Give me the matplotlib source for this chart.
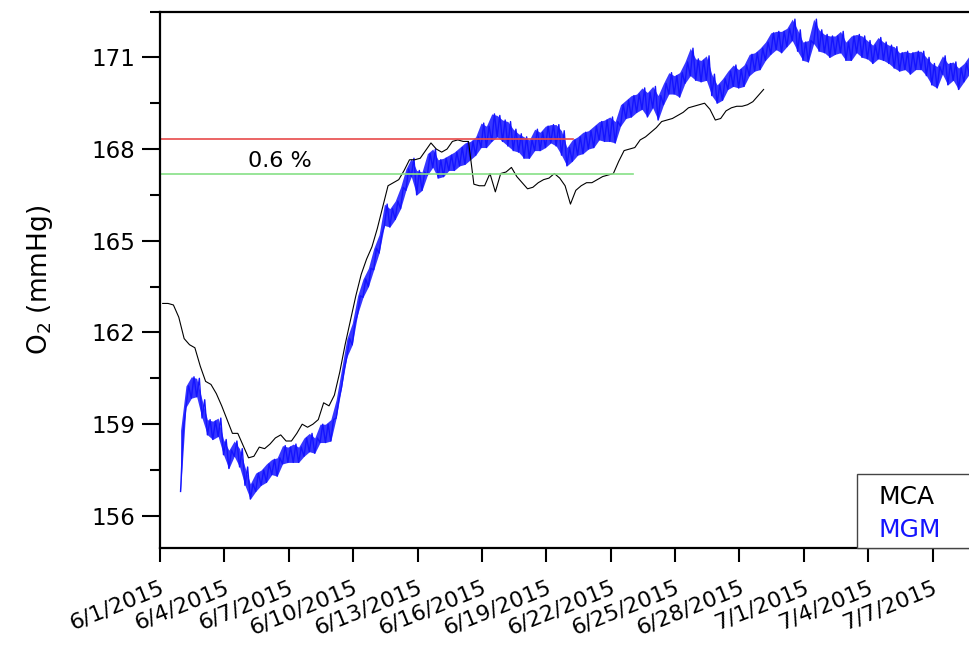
import numpy as np
import pandas as pd
import matplotlib
matplotlib.use("Agg")
import matplotlib.pyplot as plt
from matplotlib.ticker import MultipleLocator
from matplotlib.patches import Rectangle

# MGM: centre of the noisy trace and its half width, one reading every 6 h
mgm_start = "2015-06-01 23:00"
mgm_mid = [157.8, 159.9, 160.2, 160.2, 159.5, 158.9, 158.8, 158.9, 158.25, 157.85,
           158.2, 157.9, 157.3, 156.8, 157.1, 157.25, 157.4, 157.6, 157.6, 158.0,
           158.0, 158.05, 158.0, 158.25, 158.4, 158.3, 158.7, 158.7, 158.8, 159.5,
           160.5, 161.5, 161.95, 162.9, 163.45, 163.8, 164.4, 164.9, 165.85, 165.75,
           166.0, 166.4, 167.0, 167.4, 166.9, 166.95, 167.5, 167.7, 167.35, 167.4,
           167.55, 167.6, 167.75, 167.85, 167.95, 168.1, 168.45, 168.4, 168.7, 168.75,
           168.6, 168.5, 168.3, 168.2, 168.05, 168.0, 168.3, 168.25, 168.4, 168.5,
           168.45, 168.2, 167.75, 167.95, 168.1, 168.2, 168.3, 168.4, 168.6, 168.6,
           168.65, 168.55, 169.1, 169.3, 169.4, 169.5, 169.65, 169.45, 169.7, 169.35,
           169.8, 170.15, 170.1, 170.1, 170.5, 170.85, 170.6, 170.55, 170.65, 170.1,
           169.8, 169.95, 170.25, 170.4, 170.3, 170.4, 170.75, 170.85, 170.95, 171.2,
           171.45, 171.55, 171.5, 171.65, 171.9, 171.55, 171.2, 171.2, 171.85, 171.55,
           171.45, 171.35, 171.4, 171.5, 171.2, 171.3, 171.45, 171.35, 171.25, 171.1,
           171.3, 171.2, 171.1, 171.0, 170.85, 170.9, 170.8, 170.9, 170.9, 170.7,
           170.45, 170.35, 170.75, 170.45, 170.55, 170.3, 170.5, 170.75, 170.8]
mgm_half = [1.0, 0.35, 0.35, 0.3, 0.3, 0.25, 0.3, 0.3, 0.25, 0.3,
            0.25, 0.3, 0.3, 0.25, 0.3, 0.25, 0.3, 0.25, 0.3, 0.3,
            0.25, 0.3, 0.25, 0.3, 0.3, 0.25, 0.3, 0.3, 0.35, 0.3,
            0.3, 0.3, 0.35, 0.3, 0.3, 0.3, 0.35, 0.3, 0.35, 0.3,
            0.3, 0.35, 0.35, 0.3, 0.4, 0.3, 0.35, 0.3, 0.3, 0.3,
            0.25, 0.3, 0.3, 0.35, 0.3, 0.3, 0.4, 0.35, 0.45, 0.35,
            0.35, 0.4, 0.35, 0.3, 0.35, 0.3, 0.35, 0.3, 0.35, 0.3,
            0.35, 0.4, 0.3, 0.35, 0.3, 0.35, 0.3, 0.35, 0.3, 0.35,
            0.4, 0.35, 0.35, 0.3, 0.35, 0.3, 0.35, 0.4, 0.35, 0.4,
            0.35, 0.35, 0.3, 0.4, 0.35, 0.45, 0.35, 0.35, 0.4, 0.35,
            0.3, 0.35, 0.3, 0.35, 0.3, 0.35, 0.35, 0.3, 0.35, 0.3,
            0.35, 0.3, 0.35, 0.3, 0.35, 0.35, 0.3, 0.35, 0.4, 0.35,
            0.3, 0.35, 0.3, 0.35, 0.3, 0.4, 0.3, 0.35, 0.3, 0.3,
            0.35, 0.3, 0.3, 0.35, 0.3, 0.3, 0.35, 0.3, 0.3, 0.3,
            0.35, 0.35, 0.3, 0.35, 0.3, 0.35, 0.3, 0.3, 0.3]

# MCA: one reading every 6 h
mca_start = "2015-06-01 03:00"
mca = [162.95, 162.95, 162.9, 162.5, 161.8, 161.6, 161.5, 160.9, 160.4, 160.3,
       160.0, 159.6, 159.15, 158.7, 158.7, 158.3, 157.9, 157.95, 158.25, 158.2,
       158.35, 158.55, 158.65, 158.45, 158.45, 158.7, 159.0, 158.9, 159.0, 159.15,
       159.7, 159.6, 159.95, 160.7, 161.6, 162.4, 163.2, 163.9, 164.4, 164.8,
       165.4, 166.1, 166.8, 166.9, 167.0, 167.3, 167.65, 167.65, 167.7, 167.95,
       168.2, 168.0, 167.9, 168.0, 168.25, 168.3, 168.25, 168.25, 166.85, 166.8,
       166.8, 167.2, 166.6, 167.2, 167.25, 167.4, 167.1, 166.9, 166.7, 166.75,
       166.9, 167.0, 167.05, 167.2, 167.05, 166.8, 166.2, 166.65, 166.8, 166.9,
       166.9, 167.0, 167.1, 167.15, 167.2, 167.6, 167.95, 168.0, 168.05, 168.3,
       168.4, 168.55, 168.7, 168.9, 168.95, 169.0, 169.1, 169.2, 169.35, 169.4,
       169.45, 169.5, 169.3, 168.95, 169.0, 169.25, 169.35, 169.4, 169.4, 169.45,
       169.55, 169.75, 169.95]

# reference levels (0.6 % apart)
ref_high, ref_high_end = 168.32, "2015-06-20 06:00"
ref_low, ref_low_end = 167.18, "2015-06-23 01:00"

tick_labels = ["6/1/2015", "6/4/2015", "6/7/2015", "6/10/2015", "6/13/2015",
               "6/16/2015", "6/19/2015", "6/22/2015", "6/25/2015", "6/28/2015",
               "7/1/2015", "7/4/2015", "7/7/2015"]

plt.rcParams['font.family'] = ['DejaVu Sans']
BLUE = "#1414ff"

fig = plt.figure(figsize=(9.7, 6.46), dpi=100)
# right edge of the frame runs past the picture, as in the original
ax = fig.add_axes([160 / 970, 98 / 646, 837 / 970, 536.5 / 646])

# noisy MGM trace: band between low and high edge, with a zig-zag through it
t = pd.date_range(mgm_start, periods=len(mgm_mid), freq="6h").values
mid = np.array(mgm_mid)
half = np.array(mgm_half)
ax.fill_between(t, mid - half, mid + half, color=BLUE, lw=0, alpha=0.85)
zx = np.empty(2 * len(t), dtype="datetime64[ns]")
zy = np.empty(2 * len(t))
zx[0::2] = t
zx[1::2] = t + np.timedelta64(3, "h")
zy[0::2] = mid - half
zy[1::2] = mid + half
ax.plot(zx, zy, color=BLUE, lw=1.0)

tm = pd.date_range(mca_start, periods=len(mca), freq="6h")
ax.plot(tm, mca, color="black", lw=0.8)

x0 = pd.Timestamp("2015-06-01")
ax.plot([x0, pd.Timestamp(ref_high_end)], [ref_high, ref_high], color="#e84a4a", lw=1.2)
ax.plot([x0, pd.Timestamp(ref_low_end)], [ref_low, ref_low], color="#86e086", lw=1.2)
ax.text(pd.Timestamp("2015-06-05 02:00"), 167.6, "0.6 %", fontsize=16,
        ha="left", va="center")

ax.set_xlim(x0, pd.Timestamp("2015-07-10"))
ax.set_ylim(154.95, 172.5)

ticks = pd.date_range("2015-06-01", periods=len(tick_labels), freq="3D")
ax.set_xticks(ticks)
ax.set_xticklabels(tick_labels, rotation=22, ha="right", rotation_mode="anchor")
ax.set_yticks([156, 159, 162, 165, 168, 171])
ax.yaxis.set_minor_locator(MultipleLocator(1.5))

ax.tick_params(axis="y", which="major", length=13, width=1.5, labelsize=16.5, pad=5)
ax.tick_params(axis="y", which="minor", length=7, width=1.5)
ax.tick_params(axis="x", which="major", length=10, width=1.5, labelsize=16, pad=11)
for s in ax.spines.values():
    s.set_linewidth(1.6)

ax.set_ylabel(r"$\mathregular{O_2}$ (mmHg)", fontsize=19, labelpad=26)

# legend box in the lower right corner, cut by the picture edge
ax.add_patch(Rectangle((0.833, 0.0), 0.3, 0.138, transform=ax.transAxes,
                       facecolor="white", edgecolor="#444444", lw=1.0, zorder=5,
                       clip_on=False))
ax.text(0.858, 0.095, "MCA", transform=ax.transAxes, color="black", fontsize=18,
        va="center", ha="left", zorder=6)
ax.text(0.858, 0.033, "MGM", transform=ax.transAxes, color=BLUE, fontsize=18,
        va="center", ha="left", zorder=6)

fig.savefig("out.png", dpi=100)
